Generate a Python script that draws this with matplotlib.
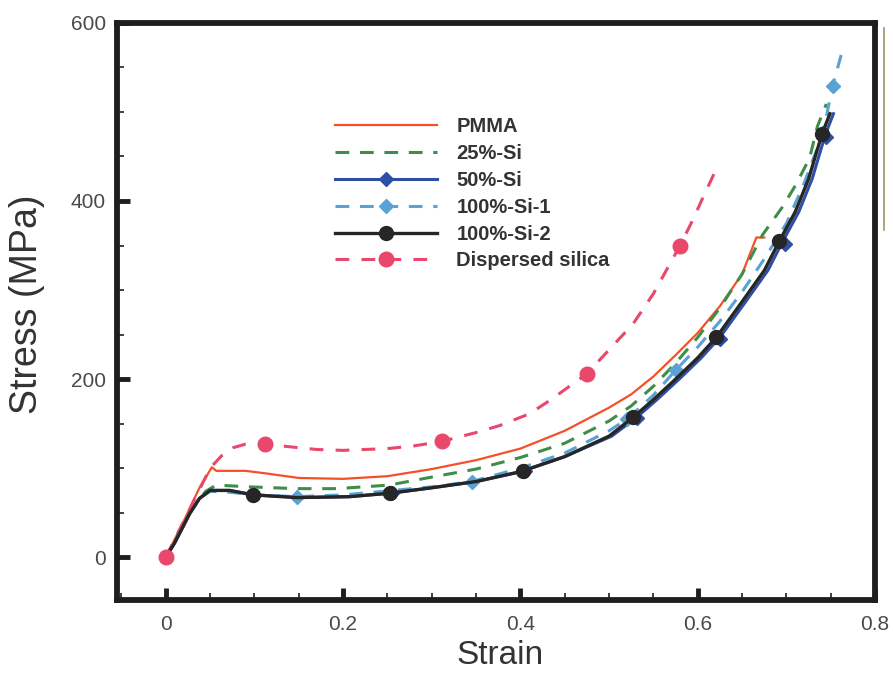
import numpy as np
import matplotlib.pyplot as plt
from matplotlib.lines import Line2D
from matplotlib.ticker import MultipleLocator

# --- data (strain, stress in MPa) ---
pmma_x = [0, 0.02, 0.038, 0.052, 0.057, 0.09, 0.114, 0.15, 0.2, 0.25, 0.3, 0.35,
          0.4, 0.45, 0.5, 0.525, 0.55, 0.575, 0.6, 0.625, 0.65, 0.666, 0.675]
pmma_y = [0, 40, 78, 101, 97, 97, 94, 89, 88, 91, 99, 109,
          122, 142, 168, 183, 203, 227, 252, 282, 318, 359, 359]

si25_x = [0, 0.027, 0.045, 0.057, 0.095, 0.148, 0.193, 0.252, 0.3, 0.35, 0.4, 0.45,
          0.5, 0.525, 0.55, 0.575, 0.6, 0.625, 0.65, 0.673, 0.696, 0.711, 0.726,
          0.735, 0.745]
si25_y = [0, 50, 74, 81, 79, 77, 77, 81, 90, 99, 112, 128,
          153, 170, 192, 218, 247, 280, 318, 362, 394, 419, 448,
          484, 509]

si50_x = [0, 0.01, 0.027, 0.038, 0.05, 0.072, 0.1, 0.15, 0.207, 0.255, 0.3, 0.35,
          0.4, 0.45, 0.503, 0.531, 0.554, 0.579, 0.604, 0.625, 0.654, 0.679, 0.696,
          0.714, 0.729, 0.744, 0.753]
si50_y = [0, 16, 49, 66, 75, 75, 70, 67, 68, 72, 78, 85,
          96, 113, 136, 157, 177, 200, 224, 247, 287, 322, 355,
          388, 425, 475, 498]
si50_mx = [0.1, 0.255, 0.405, 0.531, 0.625, 0.698, 0.745]
si50_my = [70, 72, 97, 156, 245, 352, 472]

si100a_x = [0, 0.01, 0.027, 0.038, 0.05, 0.072, 0.1, 0.148, 0.2, 0.3, 0.345, 0.4,
            0.45, 0.5, 0.52, 0.55, 0.575, 0.6, 0.625, 0.65, 0.675, 0.7, 0.72, 0.735,
            0.745, 0.752, 0.762]
si100a_y = [0, 16, 49, 66, 74, 73, 70, 68, 70, 79, 85, 100,
            117, 142, 155, 182, 210, 236, 265, 298, 335, 375, 420, 460,
            495, 529, 565]
si100a_mx = [0.148, 0.345, 0.52, 0.575, 0.752]
si100a_my = [68, 85, 155, 210, 529]

si100b_x = [0, 0.01, 0.027, 0.038, 0.05, 0.072, 0.098, 0.148, 0.207, 0.253, 0.3,
            0.35, 0.4, 0.45, 0.5, 0.527, 0.55, 0.575, 0.6, 0.621, 0.65, 0.675,
            0.692, 0.71, 0.725, 0.74, 0.749]
si100b_y = [0, 16, 49, 66, 75, 75, 70, 67, 68, 72, 78,
            85, 96, 113, 136, 157, 177, 200, 224, 247, 287, 322,
            355, 388, 425, 475, 498]
si100b_mx = [0.098, 0.253, 0.403, 0.527, 0.621, 0.692, 0.74]
si100b_my = [70, 72, 97, 157, 247, 355, 475]

disp_x = [0, 0.025, 0.05, 0.063, 0.076, 0.09, 0.112, 0.14, 0.17, 0.2, 0.25, 0.28,
          0.311, 0.35, 0.377, 0.41, 0.433, 0.475, 0.5, 0.527, 0.55, 0.58, 0.594,
          0.604, 0.619]
disp_y = [0, 50, 100, 114, 123, 127, 127, 124, 121, 120, 122, 125,
          130, 140, 148, 161, 176, 206, 233, 262, 296, 350, 378,
          400, 432]
disp_mx = [0, 0.112, 0.311, 0.475, 0.58]
disp_my = [0, 127, 130, 206, 350]

labels = ["PMMA", "25%-Si", "50%-Si", "100%-Si-1", "100%-Si-2", "Dispersed silica"]

plt.rcParams['font.family'] = ['Liberation Sans', 'DejaVu Sans']

fig = plt.figure(figsize=(8.93, 6.73), dpi=100)
ax = fig.add_axes([0.131, 0.1085, 0.849, 0.8575])

handles = []

l, = ax.plot(pmma_x, pmma_y, color='#F4502A', lw=1.6, zorder=3)
handles.append(l)

l, = ax.plot(si25_x, si25_y, color='#3E8E4A', lw=2.2, dashes=(4.5, 3.5), zorder=3)
handles.append(l)

l, = ax.plot(si50_x, si50_y, color='#2F4FA6', lw=2.2, zorder=3)
m, = ax.plot(si50_mx, si50_my, ls='none', marker='D', ms=7, color='#2F4FA6', zorder=4)
handles.append((l, m))

l, = ax.plot(si100a_x, si100a_y, color='#5AA2D4', lw=2.2, dashes=(4.5, 3.5), zorder=3)
m, = ax.plot(si100a_mx, si100a_my, ls='none', marker='D', ms=7, color='#5AA2D4', zorder=4)
handles.append((l, m))

l, = ax.plot(si100b_x, si100b_y, color='#262626', lw=2.4, zorder=4)
m, = ax.plot(si100b_mx, si100b_my, ls='none', marker='o', ms=10, color='#262626', zorder=5)
handles.append((l, m))

l, = ax.plot(disp_x, disp_y, color='#E9486C', lw=2.2, dashes=(4.5, 4), zorder=3)
m, = ax.plot(disp_mx, disp_my, ls='none', marker='o', ms=10.5, color='#E9486C', zorder=5)
handles.append((l, m))

leg = ax.legend(handles, labels, loc='upper left', bbox_to_anchor=(0.263, 0.868),
                frameon=False, handlelength=5.1, handletextpad=0.95,
                labelspacing=0.39, numpoints=1,
                prop={'weight': 'bold', 'size': 14.5})
for t in leg.get_texts():
    t.set_color('#333333')

ax.set_xlim(-0.055, 0.8)
ax.set_ylim(-48, 600)
ax.xaxis.set_minor_locator(MultipleLocator(0.05))
ax.yaxis.set_minor_locator(MultipleLocator(50))
ax.set_xticks([0, 0.2, 0.4, 0.6, 0.8], ["0", "0.2", "0.4", "0.6", "0.8"])
ax.set_yticks([0, 200, 400, 600], ["0", "200", "400", "600"])

for s in ax.spines.values():
    s.set_linewidth(4.2)
    s.set_color('#1e1e1e')

ax.tick_params(which='major', direction='in', length=9, width=3.5, color='#1e1e1e',
               labelsize=15, labelcolor='#4a4a4a', top=False, right=False)
ax.tick_params(axis='x', which='major', pad=11)
ax.tick_params(axis='y', which='major', pad=8)
ax.tick_params(which='minor', direction='in', length=5, width=1.2, color='#1e1e1e',
               top=False, right=False)

ax.set_xlabel("Strain", fontsize=24, color='#333333')
ax.set_ylabel("Stress (MPa)", fontsize=27, color='#333333')
ax.xaxis.set_label_coords(0.505, -0.07)
ax.yaxis.set_label_coords(-0.095, 0.513)

# thin scan line at the right edge of the original figure
fig.add_artist(Line2D([0.99, 0.99], [0.958, 0.658], transform=fig.transFigure,
                      color='#A09468', lw=1.2))

fig.savefig("out.png", dpi=100)
